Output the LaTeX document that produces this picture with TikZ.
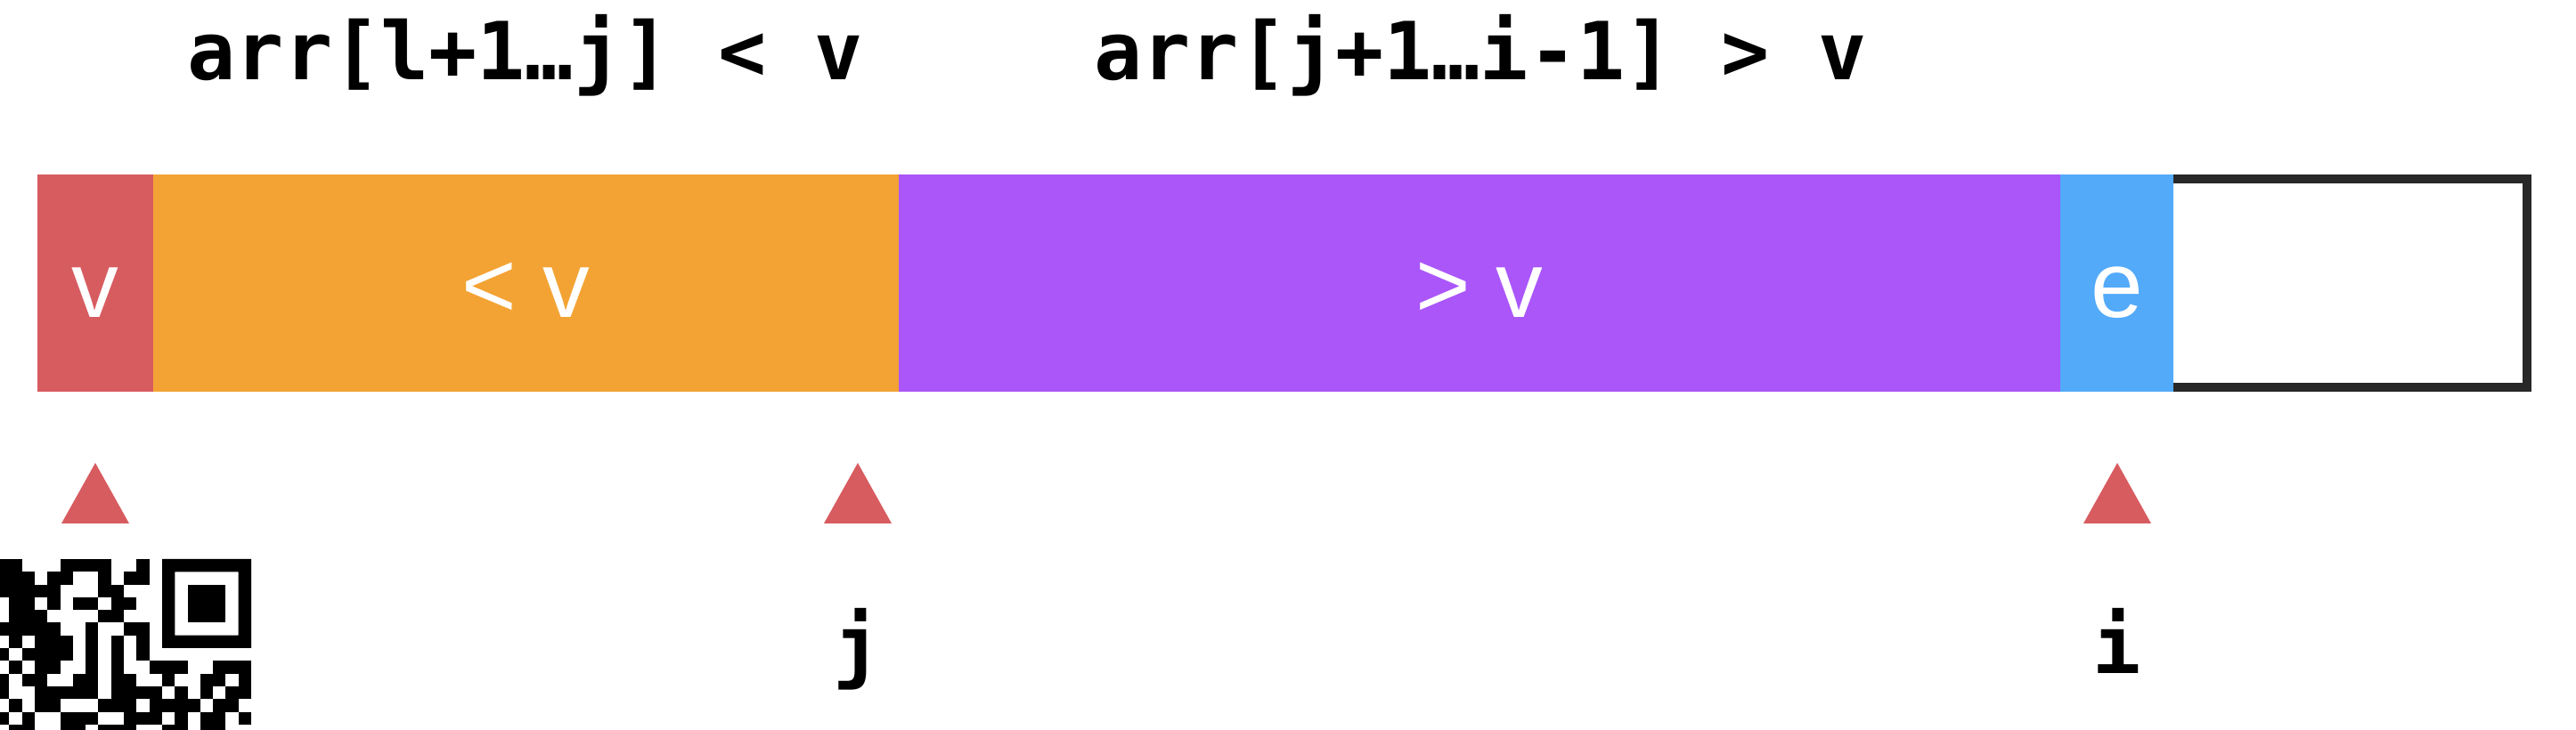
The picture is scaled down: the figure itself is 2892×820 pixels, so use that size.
\documentclass[tikz,border=0pt]{standalone}
\usepackage{fontspec}
\setsansfont{Liberation Sans}
\newfontfamily\codefont{DejaVu Sans Mono}
\definecolor{pivotred}{RGB}{215,92,96}
\definecolor{lessorange}{RGB}{243,163,52}
\definecolor{morepurple}{RGB}{170,86,249}
\definecolor{curblue}{RGB}{83,170,249}
\definecolor{framegray}{RGB}{40,40,40}

\begin{document}
\begin{tikzpicture}[x=0.1mm, y=-0.1mm,
  cell/.style={anchor=north west, minimum height=24.4mm, inner sep=0pt, outer sep=0pt,
    text=white, text height=7.7mm, text depth=0mm, font=\sffamily\fontsize{30}{36}\selectfont},
  code/.style={anchor=base, inner sep=0pt, font=\codefont\bfseries\fontsize{25.6}{30}\selectfont}]

\useasboundingbox (0,0) rectangle (2892,820);

% headings over the two parts
\node[code] (lowhead) at (590,90) {arr[l+1…j] < v};
\node[code] (highhead) at (1662,90) {arr[j+1…i-1] > v};

% the part not yet looked at (left edge hidden under e)
\node[draw=framegray, line width=1mm, minimum width=40.4mm, minimum height=23.4mm, inner sep=0pt] (rest) at (2635,318) {};

% the array cells
\node[cell, fill=pivotred, minimum width=13mm] (pivot) at (42,196) {v};
\node[cell, fill=lessorange, minimum width=83.7mm] (less) at (pivot.north east) {< v};
\node[cell, fill=morepurple, minimum width=130.4mm] (more) at (less.north east) {> v};
\node[cell, fill=curblue, minimum width=12.7mm] (cur) at (more.north east) {e};

% index pointers
\foreach \x/\name in {107/pl, 963/pj, 2377/pi} {
  \fill[pivotred] (\x-38,588) -- (\x,520) -- (\x+38,588) -- cycle;
  \coordinate (\name) at (\x,588);
}
\node[code] (jlab) at (963,757) {j};
\node[code] (ilab) at (2377,757) {i};

% qr code in the corner
\foreach \r/\cols in {0/{0,1,5,6,7,8,11}, 1/{0,1,2,4,5,8,10,11}, 2/{0,1,2,3,4,8,9},
  3/{1,2,4,6,7,9,10}, 4/{1,2,3,8,9}, 5/{0,1,2,3,4,7,10,11}, 6/{1,3,4,5,7,9,11},
  7/{0,2,3,4,5,7,9,11}, 8/{1,3,4,7,9,12,13,14,17,18,19}, 9/{0,2,3,6,7,9,10,13,16,17,19},
  10/{0,3,4,5,6,7,9,10,11,12,14,16,18,19}, 11/{1,3,4,8,9,10,12,13,14,15,17,18},
  12/{0,2,5,6,7,10,11,12,14,16,17,19}, 13/{1,2,5,6,8,9,10,13,14,16,17}} {
  \foreach \c in \cols
    \fill (-4+14.3*\c,628+14.3*\r) rectangle ++(14.3,14.3);
}
\fill[even odd rule] (182,628) rectangle (282,728) (196.3,642.3) rectangle (267.7,713.7);
\fill (210.6,656.6) rectangle (253.4,699.4);

\end{tikzpicture}
\end{document}
